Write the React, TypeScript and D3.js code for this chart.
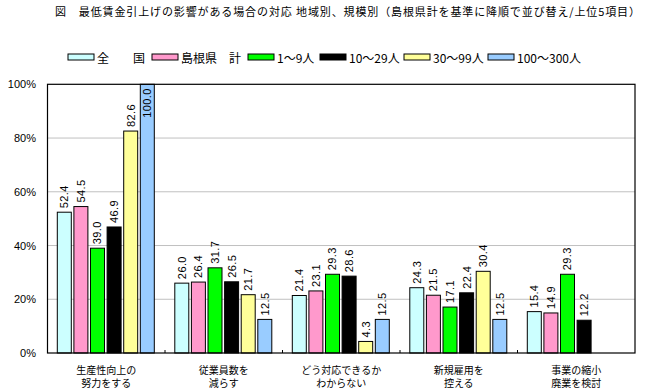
import React from "react";
import * as d3 from "d3";

const categories: string[][] = [
  ["生産性向上の", "努力をする"],
  ["従業員数を", "減らす"],
  ["どう対応できるか", "わからない"],
  ["新規雇用を", "控える"],
  ["事業の縮小", "廃業を検討"],
];
const seriesNames = ["全　　国", "島根県　計", "1～9人", "10～29人", "30～99人", "100～300人"];
const seriesColors = ["#CCFFFF", "#FF99CC", "#00FF00", "#000000", "#FFFF99", "#99CCFF"];
const zenkoku = [52.4, 26.0, 21.4, 24.3, 15.4];
const shimane = [54.5, 26.4, 23.1, 21.5, 14.9];
const s1to9 = [39.0, 31.7, 29.3, 17.1, 29.3];
const s10to29 = [46.9, 26.5, 28.6, 22.4, 12.2];
const s30to99 = [82.6, 21.7, 4.3, 30.4, null];
const s100to300 = [100.0, 12.5, 12.5, 12.5, null];
const seriesValues: (number | null)[][] = [zenkoku, shimane, s1to9, s10to29, s30to99, s100to300];
const yTicks = [0, 20, 40, 60, 80, 100];
const title = "図　最低賃金引上げの影響がある場合の対応 地域別、規模別（島根県計を基準に降順で並び替え/上位5項目）";

const legendBoxX = [68, 152, 248, 320, 404, 488];

const W = 650, H = 392;
const left = 47.5, right = 635, top = 84.3, bottom = 353;
const cjk = "'Noto Sans CJK JP', sans-serif";
const latin = "'Liberation Sans', Arial, sans-serif";

export default function App() {
  const x0 = d3.scaleBand<number>().domain(d3.range(categories.length)).range([left, right]).padding(0);
  const x1 = d3.scaleBand<number>().domain(d3.range(seriesNames.length)).range([9.8, 106.8]).paddingInner(0.157).paddingOuter(0);
  const y = d3.scaleLinear().domain([0, 100]).range([bottom, top]);

  return (
    <svg width={W} height={H} style={{ position: "absolute", left: 0, top: 0, background: "#fff" }}>
      <rect x={0} y={0} width={W} height={H} fill="#fff" />
      <text x={55} y={16} fontFamily={cjk} fontSize={11} textLength={585} lengthAdjust="spacing" fill="#000">{title}</text>
      {seriesNames.map((n, i) => (
        <g key={n}>
          <rect x={legendBoxX[i]} y={54} width={26} height={6} fill={seriesColors[i]} stroke="#000" strokeWidth={1} />
          <text x={legendBoxX[i] + 29} y={57} dominantBaseline="central" fontFamily={cjk} fontSize={12} fill="#000">{n}</text>
        </g>
      ))}
      {yTicks.filter(t => t > 0 && t < 100).map(t => (
        <line key={t} x1={left} x2={right} y1={y(t)} y2={y(t)} stroke="#c0c0c0" strokeWidth={1} />
      ))}
      {yTicks.map(t => (
        <text key={t} x={36} y={y(t)} textAnchor="end" dominantBaseline="central" fontFamily={latin} fontSize={11} fill="#000">{t}%</text>
      ))}
      {categories.map((c, ci) => (
        <g key={ci}>
          {seriesValues.map((vals, si) => {
            const v = vals[ci];
            if (v == null) return null;
            const bx = (x0(ci) as number) + (x1(si) as number);
            const bw = x1.bandwidth();
            const by = y(v);
            const cx = bx + bw / 2;
            const label = v.toFixed(1);
            const estLen = label.length * 6.1 - 3;
            let ly = by - 4;
            let anchor = "start";
            if (ly - estLen < top + 4) { ly = top + 4; anchor = "end"; }
            return (
              <g key={si}>
                <rect x={bx} y={by} width={bw} height={bottom - by} fill={seriesColors[si]} stroke="#000" strokeWidth={1} />
                <text transform={`translate(${cx},${ly}) rotate(-90)`} textAnchor={anchor} dominantBaseline="central" fontFamily={latin} fontSize={11} letterSpacing={0.4} fill="#000">{label}</text>
              </g>
            );
          })}
          <text x={(x0(ci) as number) + x0.bandwidth() / 2} y={369} textAnchor="middle" dominantBaseline="central" fontFamily={cjk} fontSize={10} fill="#000">{c[0]}</text>
          <text x={(x0(ci) as number) + x0.bandwidth() / 2} y={382.5} textAnchor="middle" dominantBaseline="central" fontFamily={cjk} fontSize={10} fill="#000">{c[1]}</text>
        </g>
      ))}
      {d3.range(1, categories.length).map(i => (
        <line key={i} x1={x0(i) as number} x2={x0(i) as number} y1={bottom} y2={bottom - 3} stroke="#000" strokeWidth={1} />
      ))}
      <rect x={left} y={top} width={right - left} height={bottom - top} fill="none" stroke="#000" strokeWidth={1.2} />
    </svg>
  );
}
